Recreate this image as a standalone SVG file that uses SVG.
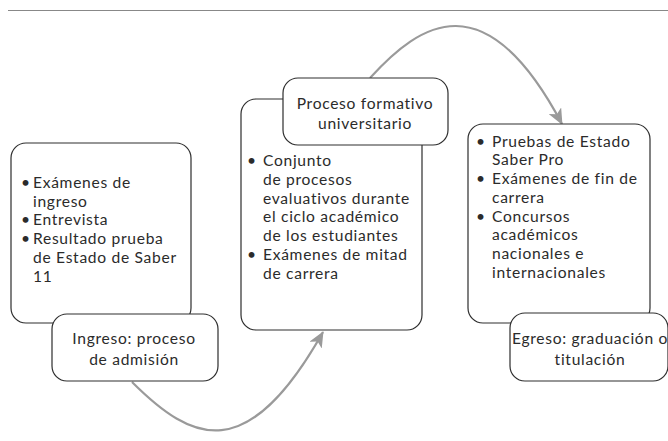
<svg xmlns="http://www.w3.org/2000/svg" width="668" height="441" viewBox="0 0 668 441">
<style>
.box{fill:#fff;stroke:#2e2e2e;stroke-width:1.2}
.t{font-family:Lato,"Open Sans","DejaVu Sans",sans-serif;font-size:15.6px;letter-spacing:0.7px;fill:#2b2b2b}
.c{text-anchor:middle}
.arc{fill:none;stroke:#9a9a9a;stroke-width:2.2}
</style>
<defs>
<marker id="ah" markerUnits="userSpaceOnUse" markerWidth="16" markerHeight="14" viewBox="0 0 16 14" refX="15" refY="7" orient="auto">
<path d="M0,0 L16,7 L0,14 L4,7 z" fill="#9a9a9a"/>
</marker>
</defs>
<line x1="8" y1="10.5" x2="668" y2="10.5" stroke="#888" stroke-width="1.2"/>
<g id="connectors">
<path class="arc" d="M370,78 C420,23 485,-21 562,124" marker-end="url(#ah)"/>
<path class="arc" d="M132,382 C192,442 247,467 323,332" marker-end="url(#ah)"/>
</g>
<g id="n1">
<rect class="box" x="11" y="143" width="180" height="180" rx="15"/>
<text class="t"><tspan x="21" y="188">•</tspan><tspan x="33" y="188">Exámenes de</tspan><tspan x="33" y="206.7">ingreso</tspan><tspan x="21" y="225.4">•</tspan><tspan x="33" y="225.4">Entrevista</tspan><tspan x="21" y="244.1">•</tspan><tspan x="33" y="244.1">Resultado prueba</tspan><tspan x="33" y="262.8">de Estado de Saber</tspan><tspan x="33" y="281.5">11</tspan></text>
</g>
<g id="n1label">
<rect class="box" x="52" y="314" width="166" height="67" rx="15"/>
<text class="t c"><tspan x="134" y="344">Ingreso: proceso</tspan><tspan x="134" y="365">de admisión</tspan></text>
</g>
<g id="n2">
<rect class="box" x="241" y="99" width="181" height="231" rx="15"/>
<text class="t"><tspan x="247" y="166">•</tspan><tspan x="263" y="166">Conjunto</tspan><tspan x="263" y="184.8">de procesos</tspan><tspan x="263" y="203.6">evaluativos durante</tspan><tspan x="263" y="222.4">el ciclo académico</tspan><tspan x="263" y="241.2">de los estudiantes</tspan><tspan x="247" y="260">•</tspan><tspan x="263" y="260">Exámenes de mitad</tspan><tspan x="263" y="278.8">de carrera</tspan></text>
</g>
<g id="n2label">
<rect class="box" x="283" y="78" width="165" height="67" rx="15"/>
<text class="t c"><tspan x="365" y="109">Proceso formativo</tspan><tspan x="365" y="129">universitario</tspan></text>
</g>
<g id="n3">
<rect class="box" x="468" y="124" width="182" height="199" rx="15"/>
<text class="t"><tspan x="476" y="146.7">•</tspan><tspan x="492" y="146.7">Pruebas de Estado</tspan><tspan x="492" y="165.4">Saber Pro</tspan><tspan x="476" y="184.1">•</tspan><tspan x="492" y="184.1">Exámenes de fin de</tspan><tspan x="492" y="202.8">carrera</tspan><tspan x="476" y="221.5">•</tspan><tspan x="492" y="221.5">Concursos</tspan><tspan x="492" y="240.2">académicos</tspan><tspan x="492" y="258.9">nacionales e</tspan><tspan x="492" y="277.6">internacionales</tspan></text>
</g>
<g id="n3label">
<rect class="box" x="510" y="313" width="158" height="68" rx="15"/>
<text class="t c"><tspan x="590" y="344">Egreso: graduación o</tspan><tspan x="590" y="365">titulación</tspan></text>
</g>
</svg>
